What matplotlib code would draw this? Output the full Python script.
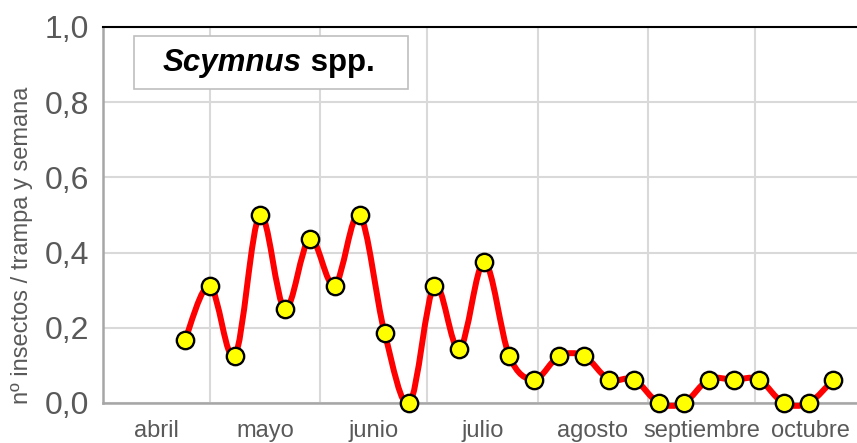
import numpy as np
import pandas as pd
import matplotlib
matplotlib.use('Agg')
import matplotlib.pyplot as plt
import matplotlib.dates as mdates
from matplotlib.patches import Rectangle
from matplotlib.path import Path
from matplotlib.patches import PathPatch

plt.rcParams['font.family'] = ['Liberation Sans', 'DejaVu Sans']

# muestreos semanales (fechas) y capturas medias
fechas = ['2015-04-24', '2015-05-01', '2015-05-08', '2015-05-15', '2015-05-22',
          '2015-05-29', '2015-06-05', '2015-06-12', '2015-06-19', '2015-06-26',
          '2015-07-03', '2015-07-10', '2015-07-17', '2015-07-24', '2015-07-31',
          '2015-08-07', '2015-08-14', '2015-08-21', '2015-08-28', '2015-09-04',
          '2015-09-11', '2015-09-18', '2015-09-25', '2015-10-02', '2015-10-09',
          '2015-10-16', '2015-10-23']
capturas = [0.167, 0.3125, 0.125, 0.5, 0.25, 0.4375, 0.3125, 0.5, 0.1875, 0.0,
            0.3125, 0.143, 0.375, 0.125, 0.0625, 0.125, 0.125, 0.0625, 0.0625, 0.0,
            0.0, 0.0625, 0.0625, 0.0625, 0.0, 0.0, 0.0625]
meses = ['abril', 'mayo', 'junio', 'julio', 'agosto', 'septiembre', 'octubre']
inicio_meses = ['2015-04-01', '2015-05-01', '2015-06-01', '2015-07-01',
                '2015-08-01', '2015-09-01', '2015-10-01', '2015-11-01']
yticks = [0.0, 0.2, 0.4, 0.6, 0.8, 1.0]

gris = '#595959'


def curva_suave(x, y):
    """Curva tipo Excel (Catmull-Rom como Bezier cubica)."""
    pts = np.column_stack([x, y])
    verts = [pts[0]]
    codes = [Path.MOVETO]
    n = len(pts)
    for i in range(n - 1):
        p0 = pts[i - 1] if i > 0 else pts[i]
        p1 = pts[i]
        p2 = pts[i + 1]
        p3 = pts[i + 2] if i + 2 < n else pts[i + 1]
        c1 = p1 + (p2 - p0) / 6.0
        c2 = p2 - (p3 - p1) / 6.0
        verts += [c1, c2, p2]
        codes += [Path.CURVE4] * 3
    return Path(verts, codes)


x = mdates.date2num(pd.to_datetime(fechas))
y = np.array(capturas)
lim = mdates.date2num(pd.to_datetime(inicio_meses))
centros = (lim[:-1] + lim[1:]) / 2

fig = plt.figure(figsize=(8.57, 4.43), dpi=100)
ax = fig.add_axes([103 / 857, 40 / 443, 759 / 857, 376 / 443])

ax.set_xlim(lim[0], lim[-2] + 30)
ax.set_ylim(0, 1.0)

ax.set_xticks(lim[1:-1])
ax.set_xticks(centros, minor=True)
ax.set_xticklabels([])
ax.set_xticklabels(meses, minor=True)
ax.tick_params(axis='x', which='both', length=0, labelsize=17, labelcolor=gris, pad=12)
ax.grid(axis='x', which='major', color='#D9D9D9', lw=1.5)

ax.set_yticks(yticks)
ax.set_yticklabels([f'{v:.1f}'.replace('.', ',') for v in yticks])
ax.tick_params(axis='y', length=0, labelsize=23, labelcolor=gris, pad=10)
ax.grid(axis='y', color='#D9D9D9', lw=1.5)
ax.set_axisbelow(True)

ax.spines['left'].set_color('#A6A6A6')
ax.spines['left'].set_linewidth(1.8)
ax.spines['bottom'].set_color('#A6A6A6')
ax.spines['bottom'].set_linewidth(1.8)
ax.spines['top'].set_color('black')
ax.spines['top'].set_linewidth(1.5)
ax.spines['right'].set_visible(False)

ax.set_ylabel('nº insectos / trampa y semana', fontsize=17, color=gris)
ax.yaxis.set_label_coords(-0.092, 0.42)

ax.add_patch(PathPatch(curva_suave(x, y), facecolor='none', edgecolor='#FF0000',
                       lw=4.3, zorder=3, clip_on=False))
ax.plot(x, y, ls='none', marker='o', ms=12.5, mfc='#FFFF00', mec='black',
        mew=1.7, zorder=4, clip_on=False)

ax.add_patch(Rectangle((0.041, 0.835), 0.361, 0.141, transform=ax.transAxes,
                       facecolor='white', edgecolor='#BFBFBF', lw=1.2, zorder=5))
ax.text(0.262, 0.903, 'Scymnus', transform=ax.transAxes, ha='right', va='center',
        fontsize=22.5, fontweight='bold', fontstyle='italic', zorder=6)
ax.text(0.262, 0.903, ' spp.', transform=ax.transAxes, ha='left', va='center',
        fontsize=22.5, fontweight='bold', zorder=6)

fig.savefig('out.png', dpi=100)
